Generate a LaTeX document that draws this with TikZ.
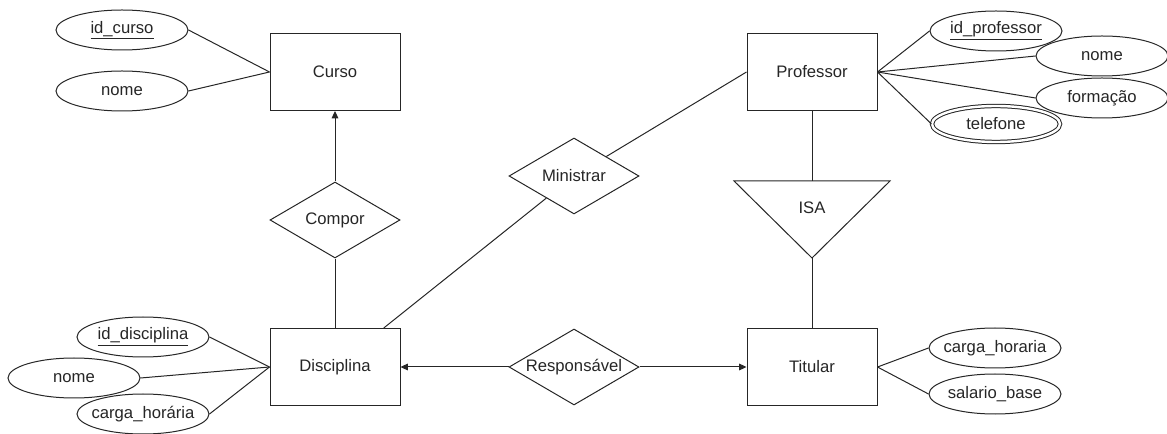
\documentclass[tikz,border=0pt]{standalone}
\usepackage{fontspec}
\setmainfont{Liberation Sans}
\usetikzlibrary{shapes.geometric,arrows.meta}

\tikzset{
  entity/.style={draw=black!85,fill=white,minimum width=97.5pt,minimum height=57.75pt,inner sep=0pt},
  attrib/.style={draw=black!85,fill=white,ellipse,minimum width=99pt,minimum height=30pt,inner xsep=-8pt,inner ysep=0pt},
  multiattrib/.style={attrib,double,double distance=1.8pt,minimum width=96pt,minimum height=27pt},
  relation/.style={draw=black!85,fill=white,diamond,aspect=1.7,minimum width=97.5pt,minimum height=57pt,inner sep=0pt},
  link/.style={draw=black!85,line width=0.75pt},
  toarrow/.style={link,-{Triangle[length=5.5pt,width=5pt]}},
}

\begin{document}
\begin{tikzpicture}[x=0.75pt,y=-0.75pt,font=\fontsize{12.5}{15}\selectfont,text=black!85,line width=0.75pt]
\path[use as bounding box] (0,0) rectangle (1167,434);
% entities
\node[entity] (curso) at (335,72) {Curso};
\node[entity] (disc) at (335,367) {Disciplina};
\node[entity] (prof) at (812,72) {Professor};
\node[entity] (titular) at (812,367) {Titular};
% relationships
\node[relation] (compor) at (335,220) {Compor};
\node[relation] (ministrar) at (574,176) {Ministrar};
\node[relation] (resp) at (574,367) {Responsável};
% specialisation
\coordinate (isatop) at (812,181);
\coordinate (isaapex) at (812,258);
\draw[link] (734,181) -- (890,181) -- (isaapex) -- cycle;
\node (isa) at (812,208) {ISA};
% attributes
\node[attrib] (idcurso) at (122,30) {\underline{id\_curso}};
\node[attrib] (nomecurso) at (122,91) {nome};
\node[attrib] (iddisc) at (143,337) {\underline{id\_disciplina}};
\node[attrib] (nomedisc) at (74,378) {nome};
\node[attrib] (cargadisc) at (143,414) {carga\_horária};
\node[attrib] (idprof) at (996,31) {\underline{id\_professor}};
\node[attrib] (nomeprof) at (1102,56) {nome};
\node[attrib] (formacao) at (1102,98) {formação};
\node[multiattrib] (telefone) at (996,124) {telefone};
\node[attrib] (cargatit) at (995,348) {carga\_horaria};
\node[attrib] (salario) at (995,394) {salario\_base};
% connectors
\draw[link] (idcurso.east) -- (curso.west);
\draw[link] (nomecurso.east) -- (curso.west);
\draw[link] (iddisc.east) -- (disc.west);
\draw[link] (nomedisc.east) -- (disc.west);
\draw[link] (cargadisc.east) -- (disc.west);
\draw[link] (prof.east) -- (idprof.west);
\draw[link] (prof.east) -- (nomeprof.west);
\draw[link] (prof.east) -- (formacao.west);
\draw[link] (prof.east) -- (telefone.west);
\draw[link] (titular.east) -- (cargatit.west);
\draw[link] (titular.east) -- (salario.west);
\draw[toarrow] (compor) -- (curso);
\draw[link] (compor) -- (disc);
\draw[link] (disc) -- (ministrar);
\draw[link] (ministrar) -- (prof.west);
\draw[toarrow] (resp) -- (disc);
\draw[toarrow] (resp) -- (titular);
\draw[link] (prof) -- (isatop);
\draw[link] (isaapex) -- (titular);
\end{tikzpicture}
\end{document}
